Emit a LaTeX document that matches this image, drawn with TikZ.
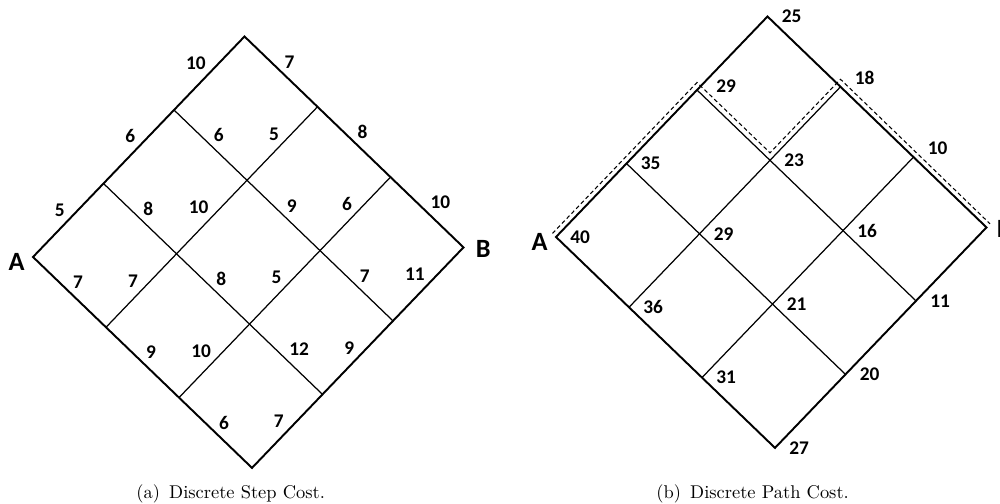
\documentclass[tikz,border=0pt]{standalone}
\usepackage{fontspec}
\newfontfamily\lblfont{Carlito}
\usetikzlibrary{calc}

\begin{document}
\begin{tikzpicture}
\tikzstyle{outer} = [line width=1.1pt, line join=miter]
\tikzstyle{inner} = [line width=0.7pt]
\tikzstyle{cost} = [font=\lblfont\bfseries\fontsize{11}{13}\selectfont, inner sep=1.5pt]
\tikzstyle{uplabel} = [cost, above left]
\tikzstyle{dnlabel} = [cost, above right]
\tikzstyle{vlabel} = [cost, anchor=west, inner sep=0pt, xshift=0.28cm]
\tikzstyle{corner} = [font=\lblfont\bfseries\fontsize{15}{18}\selectfont, inner sep=0pt]
\tikzstyle{best} = [line width=0.6pt, dash pattern=on 2.3pt off 1.6pt]
\tikzstyle{subcap} = [font=\fontsize{10.5}{12}\selectfont, anchor=west, inner sep=0pt]

\useasboundingbox (0,0) rectangle (20,10.08);

% (a) step costs on the edges
\begin{scope}[shift={(0.66,4.94)}, x={(1.41cm,1.47cm)}, y={(1.46cm,-1.406cm)}]
\coordinate (a00) at (0,0); \coordinate (a10) at (1,0); \coordinate (a20) at (2,0); \coordinate (a30) at (3,0);
\coordinate (a01) at (0,1); \coordinate (a11) at (1,1); \coordinate (a21) at (2,1); \coordinate (a31) at (3,1);
\coordinate (a02) at (0,2); \coordinate (a12) at (1,2); \coordinate (a22) at (2,2); \coordinate (a32) at (3,2);
\coordinate (a03) at (0,3); \coordinate (a13) at (1,3); \coordinate (a23) at (2,3); \coordinate (a33) at (3,3);

\draw [outer] (a00) -- node[uplabel] {5} (a10) -- node[uplabel] {6} (a20) -- node[uplabel] {10} (a30)
  -- node[dnlabel] {7} (a31) -- node[dnlabel] {8} (a32) -- node[dnlabel] {10} (a33)
  -- node[uplabel] {11} (a23) -- node[uplabel] {9} (a13) -- node[uplabel] {7} (a03)
  -- node[dnlabel] {6} (a02) -- node[dnlabel] {9} (a01) -- node[dnlabel] {7} (a00) -- cycle;
\draw [inner] (a01) -- node[uplabel] {7} (a11) -- node[uplabel] {10} (a21) -- node[uplabel] {5} (a31);
\draw [inner] (a02) -- node[uplabel] {10} (a12) -- node[uplabel] {5} (a22) -- node[uplabel] {6} (a32);
\draw [inner] (a10) -- node[dnlabel] {8} (a11) -- node[dnlabel] {8} (a12) -- node[dnlabel] {12} (a13);
\draw [inner] (a20) -- node[dnlabel] {6} (a21) -- node[dnlabel] {9} (a22) -- node[dnlabel] {7} (a23);
\end{scope}

\node (la) [corner, anchor=east, xshift=-0.16cm, yshift=-0.09cm] at (a00) {A};
\node (lb) [corner, anchor=west, xshift=0.24cm, yshift=-0.03cm] at (a33) {B};

% (b) path costs at the vertices
\begin{scope}[shift={(11.12,5.34)}, x={(1.41cm,1.47cm)}, y={(1.46cm,-1.406cm)}]
\coordinate (b00) at (0,0); \coordinate (b10) at (1,0); \coordinate (b20) at (2,0); \coordinate (b30) at (3,0);
\coordinate (b01) at (0,1); \coordinate (b11) at (1,1); \coordinate (b21) at (2,1); \coordinate (b31) at (3,1);
\coordinate (b02) at (0,2); \coordinate (b12) at (1,2); \coordinate (b22) at (2,2); \coordinate (b32) at (3,2);
\coordinate (b03) at (0,3); \coordinate (b13) at (1,3); \coordinate (b23) at (2,3); \coordinate (b33) at (3,3);

\draw [outer] (b00) -- (b30) -- (b33) -- (b03) -- cycle;
\draw [inner] (b01) -- (b31);
\draw [inner] (b02) -- (b32);
\draw [inner] (b10) -- (b13);
\draw [inner] (b20) -- (b23);
\end{scope}

\node [vlabel] at (b00) {40};
\node [vlabel] at (b10) {35};
\node [vlabel, xshift=0.1cm, yshift=0.08cm] at (b20) {29};
\node [vlabel] at (b30) {25};
\node [vlabel] at (b01) {36};
\node [vlabel] at (b11) {29};
\node [vlabel] at (b21) {23};
\node [vlabel, yshift=0.18cm] at (b31) {18};
\node [vlabel] at (b02) {31};
\node [vlabel] at (b12) {21};
\node [vlabel] at (b22) {16};
\node [vlabel, yshift=0.18cm] at (b32) {10};
\node [vlabel] at (b03) {27};
\node [vlabel] at (b13) {20};
\node [vlabel] at (b23) {11};

\node (ra) [corner, anchor=east, xshift=-0.16cm, yshift=-0.09cm] at (b00) {A};
\node (rb) [corner, anchor=west, xshift=0.2cm, yshift=-0.03cm] at (b33) {B};

% cheapest route, drawn just above the grid lines
\draw [best] ($(b00)+(135:0.1cm)$) -- ($(b20)+(0,0.15)$) -- ($(b21)+(0,0.15)$)
  -- ($(b31)+(0,0.15)$) -- ($(b33)+(45:0.1cm)$);

\node (capa) [subcap] at (2.72,0.2) {(a)\enspace Discrete Step Cost.};
\node (capb) [subcap] at (13.12,0.2) {(b)\enspace Discrete Path Cost.};

\end{tikzpicture}
\end{document}
